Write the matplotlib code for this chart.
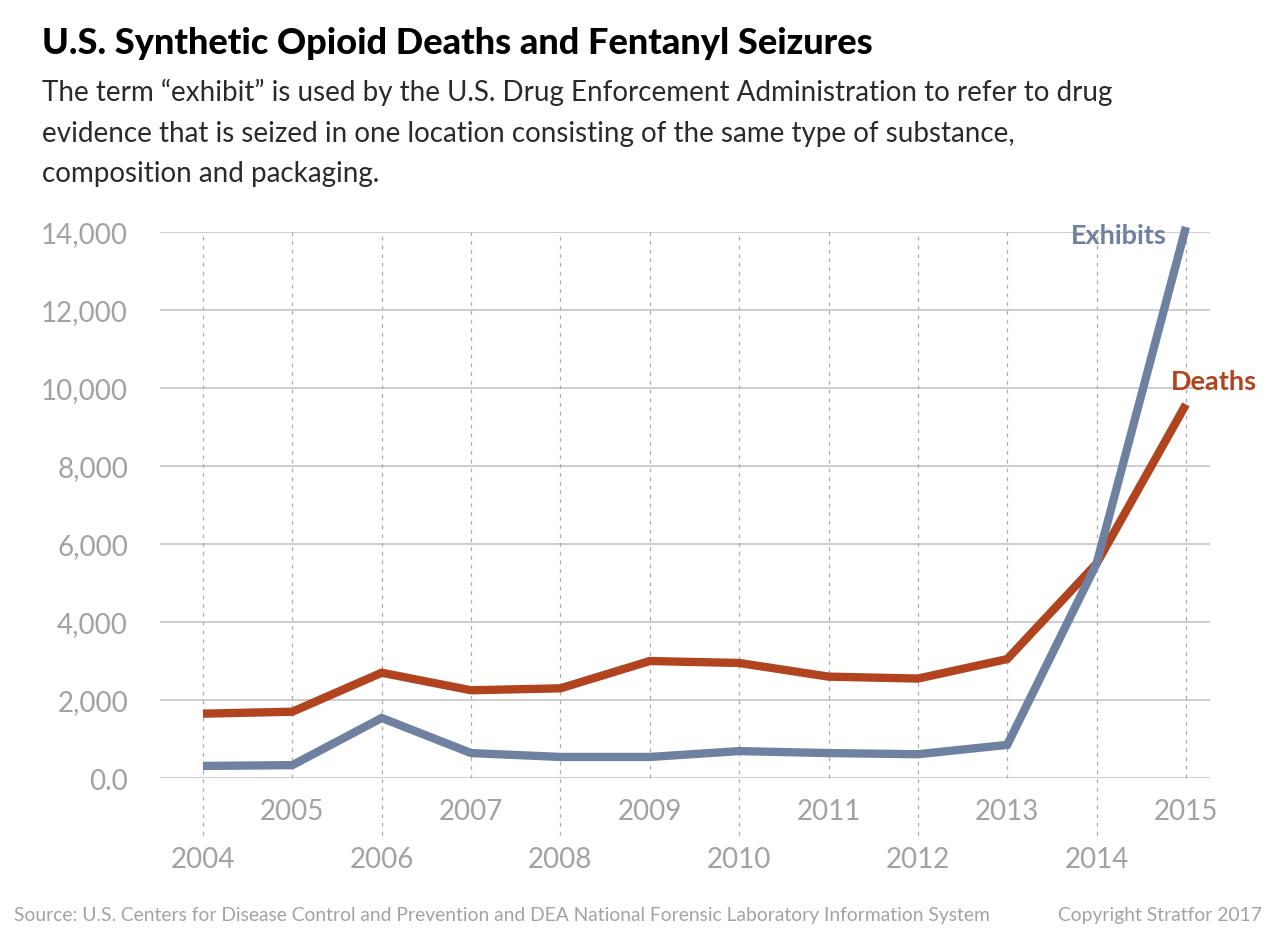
import numpy as np
import matplotlib.pyplot as plt

years = [2004, 2005, 2006, 2007, 2008, 2009, 2010, 2011, 2012, 2013, 2014, 2015]
deaths = [1650, 1700, 2700, 2250, 2300, 3000, 2950, 2600, 2550, 3050, 5500, 9580]
exhibits = [310, 330, 1540, 640, 540, 540, 690, 640, 610, 850, 5500, 14130]
y_ticks = [0, 2000, 4000, 6000, 8000, 10000, 12000, 14000]
y_labels = ['0.0', '2,000', '4,000', '6,000', '8,000', '10,000', '12,000', '14,000']

death_col = '#b1441f'
exh_col = '#6e81a1'
grey = '#a2a2a2'
font = 'Lato'

fig = plt.figure(figsize=(12.8, 9.37), dpi=100)
ax = fig.add_axes([0.125, 0.1686, 0.8203, 0.5827])

# horizontal grid
for v in y_ticks:
    ax.axhline(v, color='#c9c9c9', lw=1.3, zorder=1)

# vertical dotted lines, even years reach further down
for yr in years:
    lo = -1450 if yr % 2 == 0 else 0
    ax.plot([yr, yr], [lo, 14000], color='#ababab', lw=0.9,
            ls=(0, (3, 4)), clip_on=False, zorder=1)

ax.plot(years, deaths, color=death_col, lw=6, solid_capstyle='butt',
        solid_joinstyle='miter', clip_on=False, zorder=3)
ax.plot(years, exhibits, color=exh_col, lw=6, solid_capstyle='butt',
        solid_joinstyle='miter', clip_on=False, zorder=4)

ax.set_xlim(2003.519, 2015.269)
ax.set_ylim(0, 14000)
for s in ax.spines.values():
    s.set_visible(False)
ax.set_xticks([])
ax.set_yticks(y_ticks)
ax.set_yticklabels(y_labels, fontsize=20, color=grey, family=font)
ax.tick_params(axis='y', length=0, pad=23)

# staggered year labels
for yr in years:
    off = -33 if yr % 2 == 1 else -81
    ax.annotate(str(yr), xy=(yr, 0), xycoords='data', xytext=(0, off * 0.72),
                textcoords='offset points', ha='center', va='center',
                fontsize=20, color=grey, family=font,
                annotation_clip=False)

ax.annotate('Exhibits', xy=(2015, 14000), xytext=(-14, -2), textcoords='offset points',
            ha='right', va='center', fontsize=19.5, fontweight='bold', color=exh_col,
            family=font, annotation_clip=False)
ax.annotate('Deaths', xy=(2015, 10000), xytext=(-11, 5), textcoords='offset points',
            ha='left', va='center', fontsize=19.5, fontweight='bold', color=death_col,
            family=font, annotation_clip=False)

fig.text(42 / 1280, 1 - 44 / 937, 'U.S. Synthetic Opioid Deaths and Fentanyl Seizures',
         fontsize=26, fontweight='black', family=font, color='black', va='center', ha='left')
sub = ('The term \u201cexhibit\u201d is used by the U.S. Drug Enforcement Administration to refer to drug\n'
       'evidence that is seized in one location consisting of the same type of substance,\n'
       'composition and packaging.')
fig.text(42 / 1280, 1 - 79 / 937, sub, fontsize=20, family=font,
         color='#2a2a2a', va='top', ha='left', linespacing=1.69)

fig.text(14 / 1280, 1 - 916 / 937,
         'Source: U.S. Centers for Disease Control and Prevention and DEA National Forensic Laboratory Information System',
         fontsize=13.9, color='#a3a3a3', family=font, va='center', ha='left')
fig.text(1262 / 1280, 1 - 916 / 937, 'Copyright Stratfor 2017',
         fontsize=13.9, color='#a3a3a3', family=font, va='center', ha='right')

fig.savefig('out.png', dpi=100)
